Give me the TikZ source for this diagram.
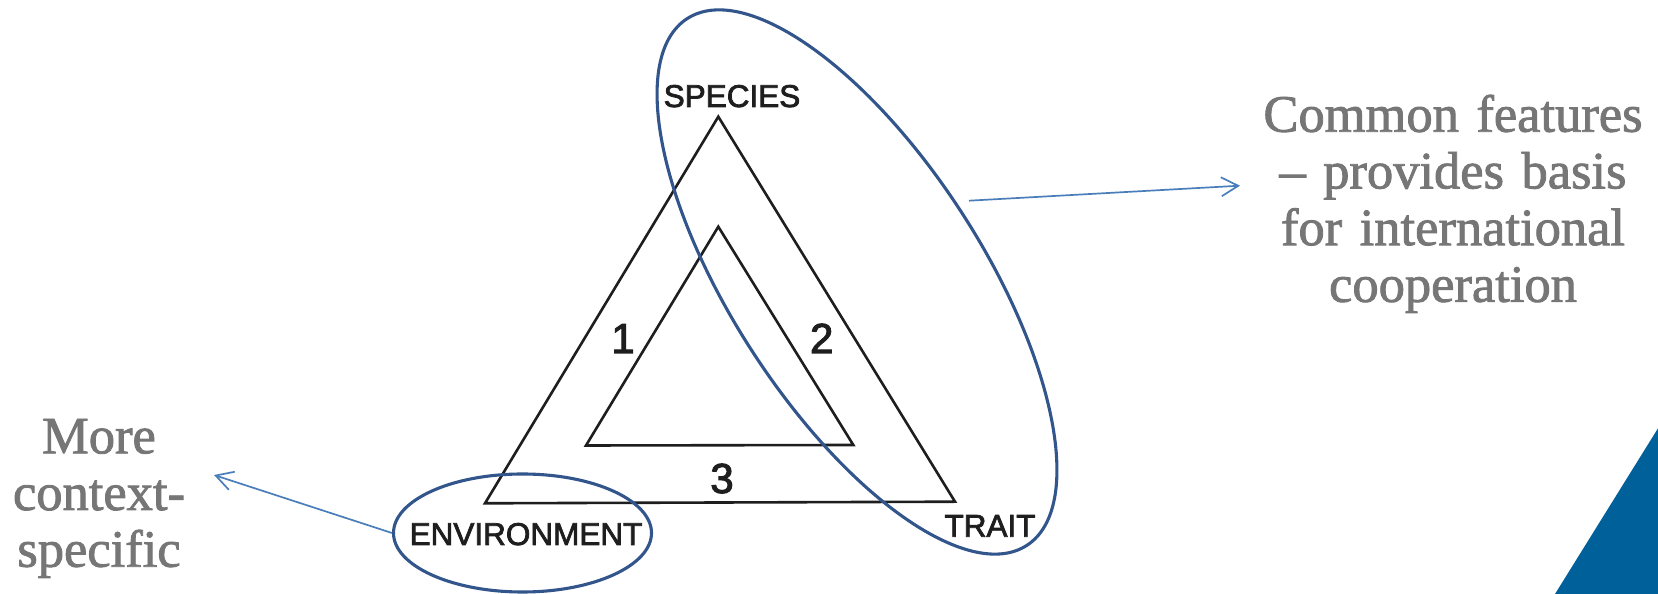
\documentclass[tikz,border=0pt]{standalone}
\usepackage{fontspec}
\setmainfont{Liberation Serif}
\newfontfamily\notefont[FakeBold=1.6]{Liberation Serif}
\newfontfamily\labelfont[FakeBold=2.4]{Liberation Sans}
\usetikzlibrary{arrows.meta,shapes.geometric}
\definecolor{ellblue}{RGB}{50,86,140}
\definecolor{arrblue}{RGB}{74,126,187}
\definecolor{txtgray}{RGB}{118,118,118}
\definecolor{cornerblue}{RGB}{0,96,154}
\definecolor{ink}{RGB}{30,30,30}
\begin{document}
\begin{tikzpicture}[x=1pt,y=1pt,
  tri/.style={draw=ink, line width=2.6pt, line join=miter},
  lab/.style={font=\labelfont\fontsize{31.5}{36}\selectfont, text=ink, inner sep=0pt, anchor=base},
  num/.style={font=\labelfont\fontsize{42}{48}\selectfont, text=ink, inner sep=0pt, anchor=base},
  note/.style={font=\notefont\fontsize{52.5}{56.7}\selectfont, text=txtgray, align=center, inner sep=0pt, anchor=base},
  ring/.style={draw=ellblue, line width=3.1pt, ellipse, inner sep=0pt},
  pointer/.style={draw=arrblue, line width=1.7pt, -{Straight Barb[length=17pt,width=19pt]}}
]
\useasboundingbox (0,0) rectangle (1658,594);
\fill[white] (0,0) rectangle (1658,594);
% corner decoration
\fill[cornerblue] (1555,0) -- (1658,165.7) -- (1658,0) -- cycle;

% triangles
\coordinate (A) at (718.3,477.3);
\coordinate (B) at (485,90.7);
\coordinate (C) at (955,92.3);
\coordinate (D) at (718.3,367.3);
\coordinate (E) at (586,148.5);
\coordinate (F) at (853.3,149);
\draw[tri] (A) -- (B) -- (C) -- cycle;
\draw[tri] (D) -- (E) -- (F) -- cycle;

% labels
\node[lab] (species) at (732,487) {SPECIES};
\node[lab] (environment) at (526,49) {ENVIRONMENT};
\node[lab] (trait) at (990,57.3) {TRAIT};
\node[num] (one) at (623,241) {1};
\node[num] (two) at (821.7,241) {2};
\node[num] (three) at (722,101) {3};

% rings
\node[ring, minimum width=258pt, minimum height=118pt] (envring) at (522.5,61) {};
\node[ring, rotate=-57.2, minimum width=626.8pt, minimum height=251.2pt] (commonring) at (857,312) {};

% notes
\node[note, text width=420pt] (common) at (1453,462.3) {Common features\\– provides basis\\for international\\cooperation};
\node[note, text width=200pt] (context) at (99,140.7) {More\\context-\\specific};

% pointers
\coordinate (rightstart) at (969,393.3);
\coordinate (righttip) at (1240,408.3);
\coordinate (lefttip) at (214,119);
\draw[pointer] (rightstart) -- (righttip);
\draw[pointer] (envring.west) -- (lefttip);
\end{tikzpicture}
\end{document}
